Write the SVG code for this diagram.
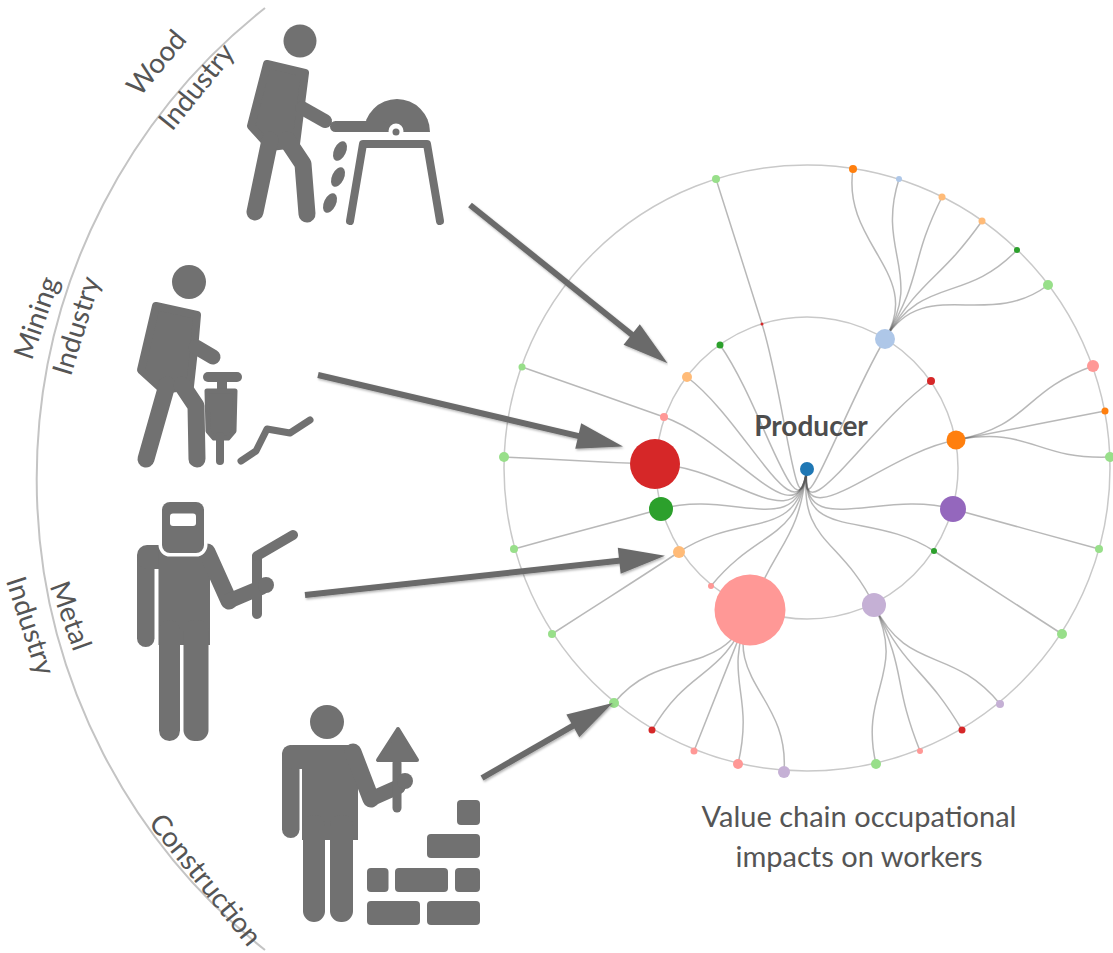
<svg xmlns="http://www.w3.org/2000/svg" width="1113" height="953" viewBox="0 0 1113 953">
  <style>
    .icon{fill:#717171}
    .solid{fill:#717171;stroke:#717171;stroke-linejoin:round}
    .limb{fill:none;stroke:#717171;stroke-linecap:round;stroke-linejoin:round}
    .ring{fill:none;stroke:#c9c9c9;stroke-width:1.5}
    .guide{fill:none;stroke:#c4c4c4;stroke-width:2}
    .link{fill:none;stroke:#555;stroke-opacity:0.42;stroke-width:1.5}
    .label{font-family:Lato,"Liberation Sans",sans-serif;fill:#555;font-size:28px;text-anchor:middle}
    .caption{font-family:Lato,"Liberation Sans",sans-serif;fill:#555;font-size:29px;text-anchor:middle}
    .producer{font-family:Lato,"Liberation Sans",sans-serif;fill:#4d4d4d;font-size:28px;font-weight:bold;text-anchor:middle}
    .arrow{fill:none;stroke:#6a6a6a;stroke-width:6;marker-end:url(#head)}
  </style>
  <defs>
    <marker id="head" markerUnits="userSpaceOnUse" markerWidth="48" markerHeight="30" viewBox="0 -15 48 30" refX="4" refY="0" orient="auto" overflow="visible">
      <path d="M0,-13 L46,0 L0,13 Z" fill="#6a6a6a"/>
    </marker>
    <filter id="shade" x="-10%" y="-10%" width="120%" height="120%">
      <feDropShadow dx="1" dy="1.5" stdDeviation="1.2" flood-color="#000" flood-opacity="0.3"/>
    </filter>
  </defs>

  <rect width="1113" height="953" fill="#fff"/>

  <!-- sector arc with industry labels -->
  <g id="sectors">
    <path class="guide" d="M265,8 A600,600 0 0 0 265,950"/>
    <text class="label" transform="translate(157,63) rotate(-50)" dy="9">Wood</text>
    <text class="label" transform="translate(197,87) rotate(-51)" dy="9">Industry</text>
    <text class="label" transform="translate(37,318) rotate(-71)" dy="9">Mining</text>
    <text class="label" transform="translate(77,326) rotate(-73)" dy="9">Industry</text>
    <text class="label" transform="translate(70,616) rotate(70)" dy="9">Metal</text>
    <text class="label" transform="translate(30,626) rotate(72)" dy="9">Industry</text>
    <text class="label" transform="translate(205,880) rotate(51)" dy="9">Construction</text>
  </g>

  <!-- wood worker at a table saw -->
  <g id="wood-worker">
    <circle class="icon" cx="300" cy="41" r="16.5"/>
    <polygon class="solid" stroke-width="8" points="267,64 305,73 300,112 296,144 270,147 251,126"/>
    <line class="limb" stroke-width="17" x1="270" y1="140" x2="255" y2="212"/>
    <polyline class="limb" stroke-width="17" points="287,140 303,164 307,214"/>
    <line class="limb" stroke-width="14" x1="302" y1="108" x2="325" y2="121"/>
    <path class="icon" d="M364,132 A33,33 0 0 1 430,132 Z"/>
    <rect class="icon" x="330" y="121" width="58" height="11" rx="5.5"/>
    <circle cx="396" cy="131" r="7.5" fill="#fff"/>
    <circle class="icon" cx="396" cy="132" r="3.5"/>
    <path class="limb" stroke-width="8" d="M350,221 L363,144 L427,144 L440,221"/>
    <ellipse class="icon" cx="340" cy="151" rx="6" ry="10.5" transform="rotate(25 340 151)"/>
    <ellipse class="icon" cx="338" cy="177" rx="6" ry="10.5" transform="rotate(25 338 177)"/>
    <ellipse class="icon" cx="330" cy="203" rx="6" ry="10.5" transform="rotate(25 330 203)"/>
  </g>

  <!-- miner with a jackhammer -->
  <g id="mining-worker">
    <circle class="icon" cx="189" cy="282" r="17"/>
    <polygon class="solid" stroke-width="8" points="156,306 197,315 194,350 190,386 163,390 141,370"/>
    <line class="limb" stroke-width="15" x1="196" y1="347" x2="213" y2="357"/>
    <line class="limb" stroke-width="17" x1="167" y1="385" x2="146" y2="459"/>
    <polyline class="limb" stroke-width="17" points="182,385 196,406 197,459"/>
    <line class="limb" stroke-width="10" x1="208" y1="377" x2="237" y2="377"/>
    <rect class="icon" x="217" y="377" width="10" height="15"/>
    <polygon class="solid" stroke-width="5" points="207,391 235,391 234,431 228,438 214,438 208,431"/>
    <line class="limb" stroke-width="8" x1="220" y1="436" x2="220" y2="461"/>
    <polyline class="limb" stroke-width="7" points="241,461 256,451 267,429 290,433 310,420"/>
  </g>

  <!-- welder with torch -->
  <g id="metal-worker">
    <rect class="icon" x="137" y="549" width="17.5" height="98" rx="8.75"/>
    <rect class="icon" x="137" y="545" width="76" height="24" rx="10"/>
    <rect class="icon" x="158.5" y="550" width="51.5" height="95"/>
    <rect class="icon" x="159" y="620" width="21" height="121" rx="10.5"/>
    <rect class="icon" x="183.5" y="620" width="25" height="121" rx="11"/>
    <line class="limb" stroke-width="17" x1="207" y1="552" x2="229" y2="601"/>
    <line class="limb" stroke-width="15" x1="229" y1="601" x2="262" y2="587"/>
    <line class="limb" stroke-width="10" x1="257" y1="557" x2="257" y2="614"/>
    <line class="limb" stroke-width="10" x1="257" y1="556" x2="293" y2="535"/>
    <circle class="icon" cx="266" cy="585" r="8"/>
    <rect x="162" y="502" width="42" height="51" rx="8" fill="#717171" stroke="#fff" stroke-width="7" paint-order="stroke"/>
    <rect x="170" y="513.5" width="26" height="12.5" rx="3" fill="#fff"/>
  </g>

  <!-- bricklayer with trowel -->
  <g id="construction-worker">
    <circle class="icon" cx="327" cy="722" r="17"/>
    <rect class="icon" x="282" y="745" width="17.5" height="93" rx="8.75"/>
    <rect class="icon" x="282" y="745" width="78" height="24" rx="11"/>
    <rect class="icon" x="302" y="750" width="56" height="90"/>
    <rect class="icon" x="303" y="815" width="22" height="107" rx="11"/>
    <rect class="icon" x="330" y="815" width="23" height="107" rx="11"/>
    <line class="limb" stroke-width="17" x1="353" y1="752" x2="371" y2="799"/>
    <line class="limb" stroke-width="15" x1="371" y1="799" x2="398" y2="787"/>
    <line class="limb" stroke-width="9" x1="397" y1="763" x2="397" y2="808"/>
    <polygon class="solid" stroke-width="4" points="398,729 378,760 417,760"/>
    <circle class="icon" cx="405" cy="781" r="8"/>
    <rect class="icon" x="457" y="800" width="23" height="25" rx="4"/>
    <rect class="icon" x="427" y="834" width="53" height="24" rx="4"/>
    <rect class="icon" x="367" y="868" width="21.5" height="24" rx="4"/>
    <rect class="icon" x="395" y="868" width="53" height="24" rx="4"/>
    <rect class="icon" x="455" y="868" width="25" height="24" rx="4"/>
    <rect class="icon" x="367" y="901" width="53" height="24" rx="4"/>
    <rect class="icon" x="427" y="901" width="53" height="24" rx="4"/>
  </g>

  <!-- radial value chain: depth rings -->
  <g id="rings">
    <circle class="ring" cx="807" cy="468" r="303"/>
    <circle class="ring" cx="807" cy="468" r="151"/>
  </g>

  <!-- radial links (d3 linkRadial style) -->
  <g id="links">
    <path class="link" d="M807,468C797.9,543 735.5,442.5 664,417"/>
    <path class="link" d="M807,468C797.9,543 747,422.5 687,377"/>
    <path class="link" d="M807,468C797.9,543 763.5,406.5 720,345"/>
    <path class="link" d="M807,468C797.9,543 784.5,396 762,324"/>
    <path class="link" d="M807,468C797.9,543 846,403.5 885,339"/>
    <path class="link" d="M807,468C797.9,543 869,424.5 931,381"/>
    <path class="link" d="M807,468C797.9,543 881.5,454 956,440"/>
    <path class="link" d="M807,468C797.9,543 880,488.5 953,509"/>
    <path class="link" d="M807,468C797.9,543 870.5,509.5 934,551"/>
    <path class="link" d="M807,468C797.9,543 840.5,536.5 874,605"/>
    <path class="link" d="M807,468C797.9,543 778.5,539 750,610"/>
    <path class="link" d="M807,468C797.9,543 759,527 711,586"/>
    <path class="link" d="M807,468C797.9,543 743,510 679,552"/>
    <path class="link" d="M807,468C797.9,543 734,488.5 661,509"/>
    <path class="link" d="M807,468C797.9,543 731,466 655,464"/>

    <path class="link" d="M664,417C592,391.3 593.5,392.3 522,367"/>
    <path class="link" d="M762,324C739.4,251.5 738.8,251.5 716,179"/>

    <path class="link" d="M885,339C924.3,274.1 841.5,244 853,169"/>
    <path class="link" d="M885,339C924.3,274.1 875.9,251.5 899,179"/>
    <path class="link" d="M885,339C924.3,274.1 908.1,265 942,197"/>
    <path class="link" d="M885,339C924.3,274.1 938.1,282.9 982,221"/>
    <path class="link" d="M885,339C924.3,274.1 964.3,304.7 1017,250"/>
    <path class="link" d="M885,339C924.3,274.1 987.6,330.9 1048,285"/>

    <path class="link" d="M956,440C1031,425.9 1021.3,391.6 1093,366"/>
    <path class="link" d="M956,440C1031,425.9 1030.3,425.3 1105,411"/>
    <path class="link" d="M956,440C1031,425.9 1034,459.8 1110,457"/>

    <path class="link" d="M953,509C1026.5,529.6 1025.8,528.7 1099,549"/>
    <path class="link" d="M934,551C997.9,592.8 998,592.4 1062,634"/>

    <path class="link" d="M874,605C907.7,674 951.6,644.8 1000,704"/>
    <path class="link" d="M874,605C907.7,674 923.1,664.3 962,730"/>
    <path class="link" d="M874,605C907.7,674 891.7,680 920,751"/>
    <path class="link" d="M874,605C907.7,674 858.7,689.8 876,764"/>

    <path class="link" d="M750,610C721.3,681.5 789.8,695.8 784,772"/>
    <path class="link" d="M750,610C721.3,681.5 755.3,689.8 738,764"/>
    <path class="link" d="M750,610C721.3,681.5 722.3,680 694,751"/>
    <path class="link" d="M750,610C721.3,681.5 690.9,664.3 652,730"/>
    <path class="link" d="M750,610C721.3,681.5 662.4,644.1 614,703"/>

    <path class="link" d="M679,552C614.6,594.3 616,592.4 552,634"/>
    <path class="link" d="M661,509C587.5,529.6 587.5,528.7 514,549"/>
    <path class="link" d="M655,464C578.5,462 580,459.8 504,457"/>
  </g>

  <!-- tree nodes -->
  <g id="node-producer">
    <circle cx="807" cy="469" r="7" fill="#1f77b4"/>
    <text class="producer" x="811" y="436">Producer</text>
  </g>
  <g id="nodes-tier1">
    <circle cx="664" cy="417" r="4" fill="#ff9896"/>
    <circle cx="687" cy="377" r="5" fill="#ffbb78"/>
    <circle cx="720" cy="345" r="3.5" fill="#2ca02c"/>
    <circle cx="762" cy="324" r="1.5" fill="#d62728"/>
    <circle cx="885" cy="339" r="10" fill="#aec7e8"/>
    <circle cx="931" cy="381" r="4" fill="#d62728"/>
    <circle cx="956" cy="440" r="9.5" fill="#ff7f0e"/>
    <circle cx="953" cy="509" r="13" fill="#9467bd"/>
    <circle cx="934" cy="551" r="3" fill="#2ca02c"/>
    <circle cx="874" cy="605" r="12" fill="#c5b0d5"/>
    <circle cx="750" cy="610" r="35.5" fill="#ff9896"/>
    <circle cx="711" cy="586" r="3" fill="#ff9896"/>
    <circle cx="679" cy="552" r="6" fill="#ffbb78"/>
    <circle cx="661" cy="509" r="12" fill="#2ca02c"/>
    <circle cx="655" cy="464" r="25" fill="#d62728"/>
  </g>
  <g id="nodes-tier2">
    <circle cx="522" cy="367" r="3.5" fill="#98df8a"/>
    <circle cx="716" cy="179" r="4" fill="#98df8a"/>
    <circle cx="853" cy="169" r="4" fill="#ff7f0e"/>
    <circle cx="899" cy="179" r="3" fill="#aec7e8"/>
    <circle cx="942" cy="197" r="3.5" fill="#ffbb78"/>
    <circle cx="982" cy="221" r="3.5" fill="#ffbb78"/>
    <circle cx="1017" cy="250" r="3" fill="#2ca02c"/>
    <circle cx="1048" cy="285" r="5" fill="#98df8a"/>
    <circle cx="1093" cy="366" r="6" fill="#ff9896"/>
    <circle cx="1105" cy="411" r="3.5" fill="#ff7f0e"/>
    <circle cx="1110" cy="457" r="5" fill="#98df8a"/>
    <circle cx="1099" cy="549" r="4" fill="#98df8a"/>
    <circle cx="1062" cy="634" r="5" fill="#98df8a"/>
    <circle cx="1000" cy="704" r="4" fill="#c5b0d5"/>
    <circle cx="962" cy="730" r="3.5" fill="#d62728"/>
    <circle cx="920" cy="751" r="3" fill="#ff9896"/>
    <circle cx="876" cy="764" r="5" fill="#98df8a"/>
    <circle cx="784" cy="772" r="6" fill="#c5b0d5"/>
    <circle cx="738" cy="764" r="5" fill="#ff9896"/>
    <circle cx="694" cy="751" r="3.5" fill="#ff9896"/>
    <circle cx="652" cy="730" r="3.5" fill="#d62728"/>
    <circle cx="614" cy="703" r="5" fill="#98df8a"/>
    <circle cx="552" cy="634" r="4" fill="#98df8a"/>
    <circle cx="514" cy="549" r="4" fill="#98df8a"/>
    <circle cx="504" cy="457" r="5" fill="#98df8a"/>
  </g>

  <!-- pointers from each industry into the chain -->
  <g id="pointers" filter="url(#shade)">
    <line class="arrow" x1="470" y1="205" x2="634.8" y2="337"/>
    <line class="arrow" x1="318" y1="375" x2="582.1" y2="436.9"/>
    <line class="arrow" x1="305" y1="595" x2="623.2" y2="560.3"/>
    <line class="arrow" x1="482" y1="778" x2="576.3" y2="723.9"/>
  </g>

  <g id="caption">
    <text class="caption" x="859" y="827">Value chain occupational</text>
    <text class="caption" x="859" y="867">impacts on workers</text>
  </g>
</svg>
